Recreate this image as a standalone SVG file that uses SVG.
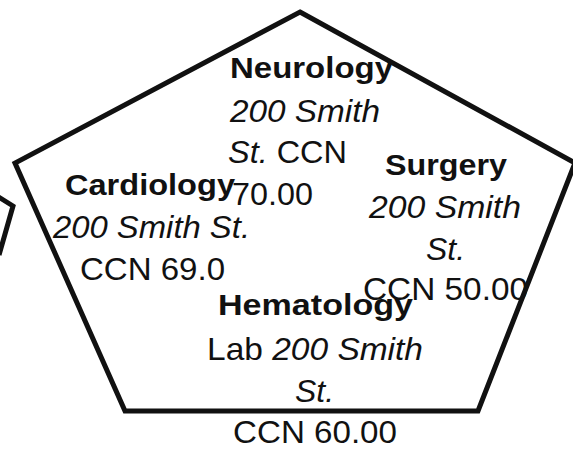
<svg xmlns="http://www.w3.org/2000/svg" width="573" height="449" viewBox="0 0 573 449">
<style>
.shape{fill:none;stroke:#111;stroke-width:5;stroke-linejoin:miter}
text{font-family:"Liberation Sans",Arial,sans-serif;fill:#111}
.t{font-weight:bold;font-size:29px}
.b{font-size:31.5px}
.i{font-style:italic}
</style>
<rect x="0" y="0" width="573" height="449" fill="#fff"/>
<g id="shapes">
<polygon class="shape" points="300,12 575,163 478,411 125,411 15,163"/>
<polyline class="shape" points="-3,196 13,206 -1,255"/>
</g>
<g id="connectors"></g>
<g id="neurology">
<text class="t" x="230" y="78" textLength="163" lengthAdjust="spacingAndGlyphs" fill="#222">Neurology</text>
<text class="b i" x="230" y="122" textLength="150" lengthAdjust="spacingAndGlyphs" fill="#333">200 Smith</text>
<text class="b" x="228" y="163" textLength="119" lengthAdjust="spacingAndGlyphs"><tspan class="i">St.</tspan> CCN</text>
<text class="b" x="232" y="205" textLength="81" lengthAdjust="spacingAndGlyphs">70.00</text>
</g>
<g id="cardiology">
<text class="t" x="65" y="195" textLength="170" lengthAdjust="spacingAndGlyphs">Cardiology</text>
<text class="b i" x="53" y="238" textLength="197" lengthAdjust="spacingAndGlyphs">200 Smith St.</text>
<text class="b" x="80" y="280" textLength="145" lengthAdjust="spacingAndGlyphs">CCN 69.0</text>
</g>
<g id="surgery">
<text class="t" x="385" y="175" textLength="122" lengthAdjust="spacingAndGlyphs">Surgery</text>
<text class="b i" x="369" y="218" textLength="152" lengthAdjust="spacingAndGlyphs">200 Smith</text>
<text class="b i" x="426" y="260" textLength="39" lengthAdjust="spacingAndGlyphs">St.</text>
<text class="b" x="363" y="300" textLength="165" lengthAdjust="spacingAndGlyphs">CCN 50.00</text>
</g>
<g id="hematology">
<text class="t" x="218" y="315" textLength="195" lengthAdjust="spacingAndGlyphs">Hematology</text>
<text class="b" x="207" y="360" textLength="216" lengthAdjust="spacingAndGlyphs">Lab <tspan class="i">200 Smith</tspan></text>
<text class="b i" x="295" y="402" textLength="39" lengthAdjust="spacingAndGlyphs">St.</text>
<text class="b" x="233" y="443" textLength="164" lengthAdjust="spacingAndGlyphs">CCN 60.00</text>
</g>
</svg>
